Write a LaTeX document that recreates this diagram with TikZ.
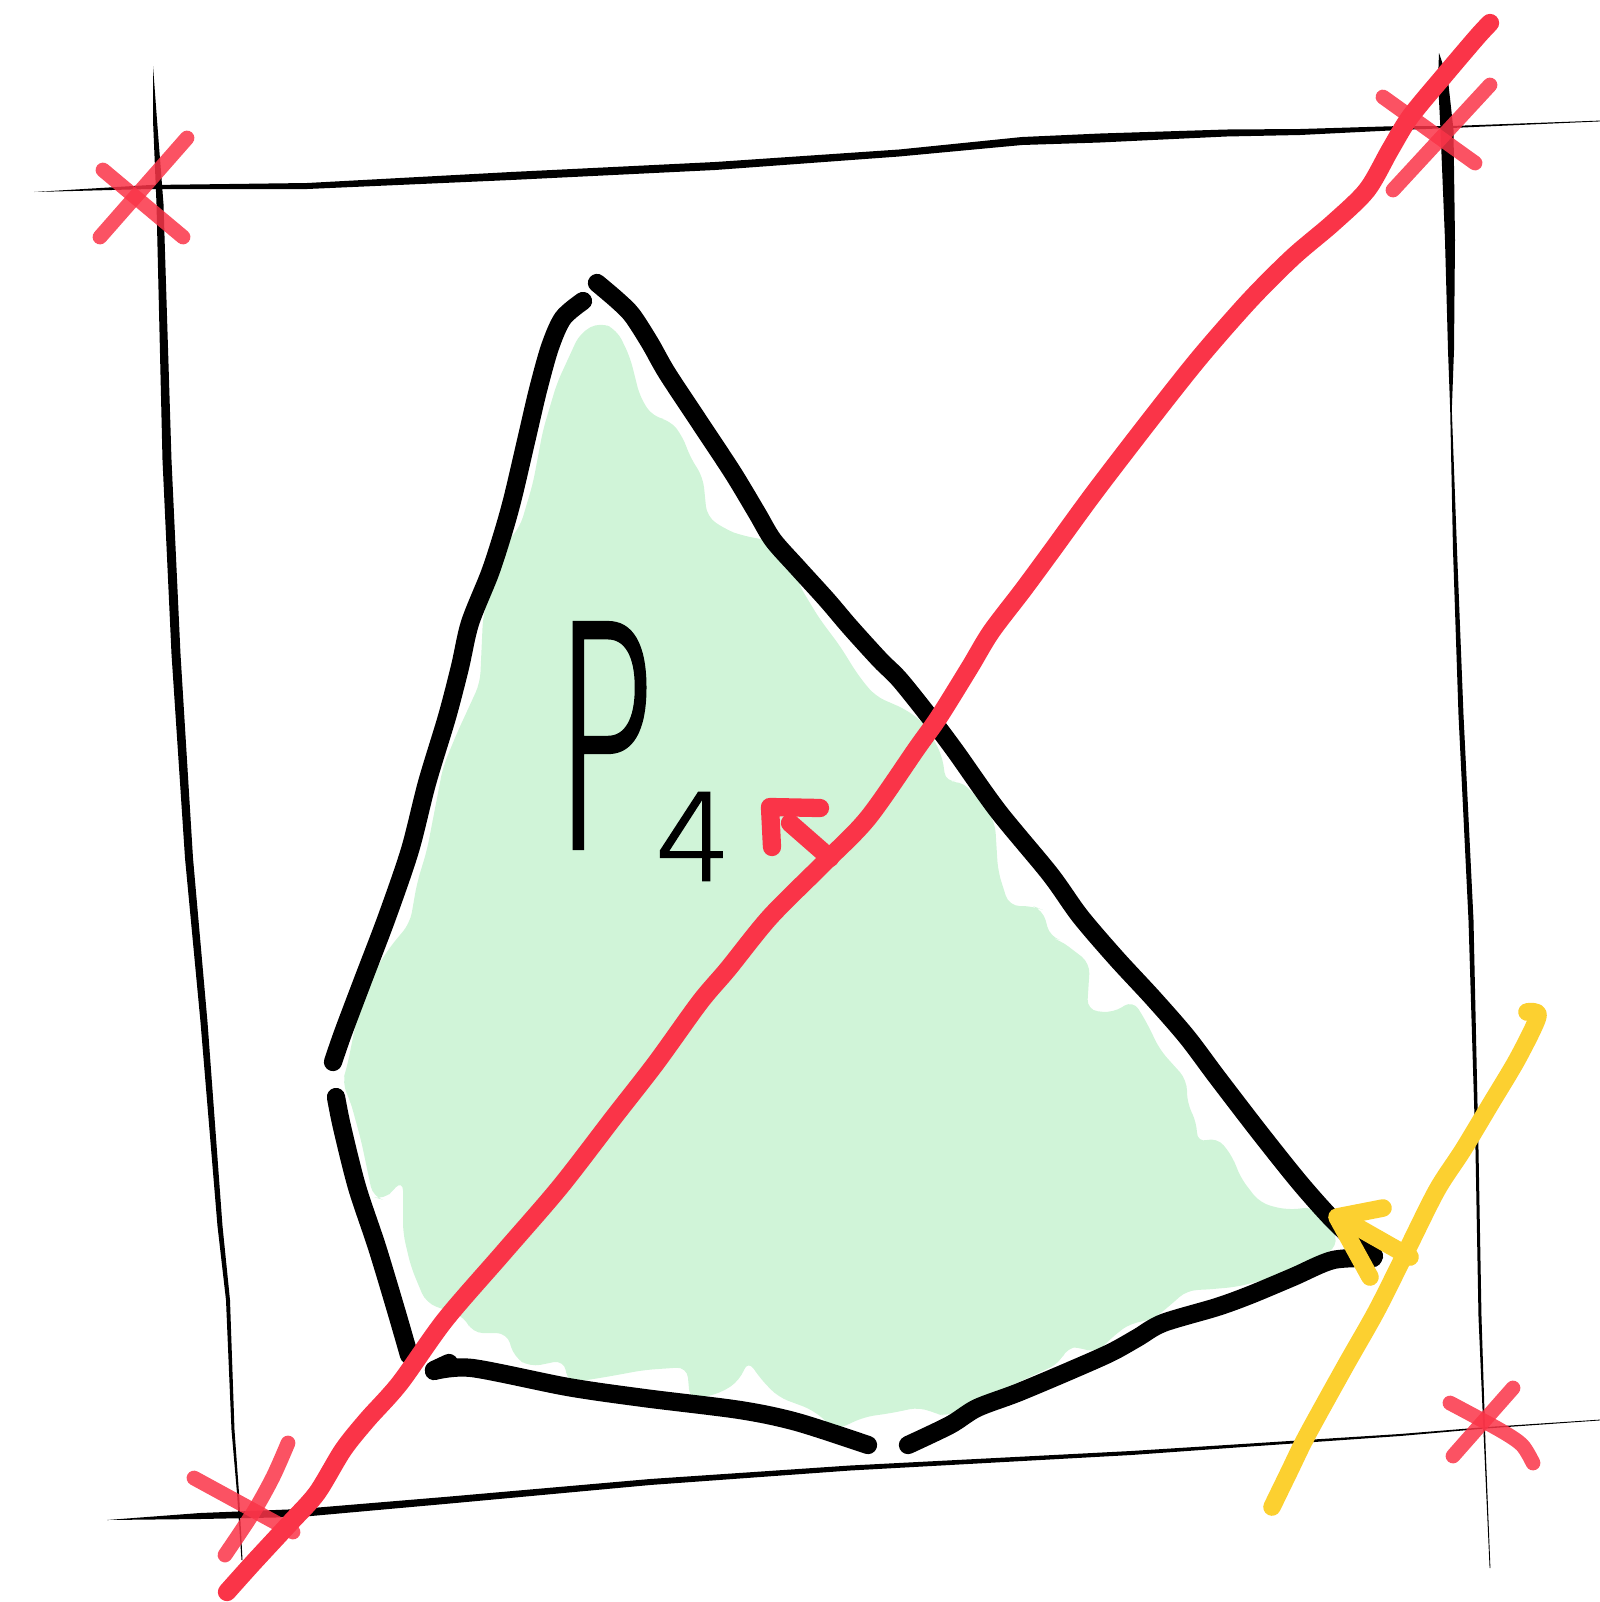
\documentclass[tikz,border=0pt]{standalone}
\usepackage{fontspec}
\usepackage{graphicx}
\usepackage{tikz}
\IfFontExistsTF{DejaVu Sans ExtraLight}
    {\newfontfamily\sketchfont[AutoFakeBold=2]{DejaVu Sans ExtraLight}}
    {\newfontfamily\sketchfont{DejaVu Sans}}
\definecolor{sketchred}{RGB}{250, 52, 72}
\definecolor{sketchyellow}{RGB}{252, 208, 48}
\definecolor{sketchgreen}{RGB}{208, 244, 216}

\begin{document}
\begin{tikzpicture}[
            x=0.01cm, y=-0.01cm,
            pen/.style={line width=5.2pt, line cap=round, line join=round},
            blackpen/.style={pen, draw=black},
            redpen/.style={pen, line width=5.2pt, draw=sketchred},
            crosspen/.style={line width=4.2pt, line cap=round, draw=sketchred, opacity=0.85},
            yellowpen/.style={pen, line width=5pt, draw=sketchyellow}
        ]
            \useasboundingbox (0,0) rectangle (1600,1602);

            % shaded region
            \fill[sketchgreen, rounded corners=3pt] (600,322) -- (617,330) -- (630,357) -- (640,397) -- (653,417) -- (670,420)
                -- (683,437) -- (690,457) -- (703,477) -- (707,517) -- (727,530) -- (740,535) -- (791,545)
                -- (798,583) -- (819,618) -- (840,646) -- (858,675) -- (875,696) -- (907,710) -- (925,724)
                -- (942,755) -- (946,783) -- (960,780) -- (981,801) -- (995,822) -- (998,871) -- (1009,906)
                -- (1033,906) -- (1043,910) -- (1050,937) -- (1060,940) -- (1090,963) -- (1087,1010)
                -- (1113,1013) -- (1133,1000) -- (1147,1023) -- (1160,1050) -- (1187,1080) -- (1187,1103)
                -- (1197,1123) -- (1197,1143) -- (1217,1137) -- (1233,1157) -- (1240,1177) -- (1260,1203)
                -- (1287,1210) -- (1313,1207) -- (1330,1217) -- (1338,1247) -- (1306,1263) -- (1264,1280)
                -- (1236,1287) -- (1201,1290) -- (1187,1290) -- (1173,1303) -- (1152,1320) -- (1131,1323)
                -- (1117,1333) -- (1096,1353) -- (1078,1347) -- (1067,1347) -- (1060,1363) -- (1008,1387)
                -- (973,1400) -- (948,1417) -- (934,1413) -- (920,1407) -- (892,1413) -- (864,1417)
                -- (836,1430) -- (813,1410) -- (778,1397) -- (759,1377) -- (748,1360) -- (740,1380)
                -- (721,1393) -- (690,1400) -- (687,1367) -- (644,1370) -- (606,1377) -- (568,1383)
                -- (564,1360) -- (530,1367) -- (514,1357) -- (507,1333) -- (472,1333) -- (465,1317)
                -- (426,1303) -- (411,1267) -- (403,1233) -- (403,1180) -- (396,1187) -- (384,1200)
                -- (373,1197) -- (361,1140) -- (350,1100) -- (342,1083) -- (347,1067) -- (357,1017)
                -- (377,967) -- (390,947) -- (410,923) -- (417,883) -- (427,850) -- (443,767) -- (457,733)
                -- (480,683) -- (483,617) -- (500,550) -- (520,527) -- (533,483) -- (543,430) -- (557,383)
                -- (580,333) -- cycle;

            % frame strokes
            \fill[black] (34,192) -- (150,185) -- (307,183) -- (511,172) -- (715,162) -- (899,149.5)
                -- (1022,137) -- (1100,133.5) -- (1226,129.5) -- (1300,129) -- (1400,126) -- (1451,126)
                -- (1600,120.6) -- (1600,121.4) -- (1451,128) -- (1400,130) -- (1300,135) -- (1226,136.5)
                -- (1100,142.5) -- (1022,145) -- (899,156.5) -- (715,170) -- (511,180) -- (307,189)
                -- (150,189) -- cycle;
            \fill[black] (153,66) -- (153,120) -- (156.5,204) -- (162.5,460) -- (171.5,654) -- (185,858)
                -- (200.5,1022) -- (217.5,1226) -- (226,1300) -- (231.5,1430) -- (237,1493) -- (241.5,1560)
                -- (242.5,1560) -- (239,1493) -- (234.5,1430) -- (230,1300) -- (222.5,1226) -- (207.5,1022)
                -- (193,858) -- (180.5,654) -- (171.5,460) -- (163.5,204) -- (157,120) -- cycle;
            \fill[black] (1439,53) -- (1438,80) -- (1440.5,130) -- (1445,240) -- (1448,350) -- (1450.2,410)
                -- (1453,550) -- (1458.5,715) -- (1468.5,920) -- (1475.5,1150) -- (1478.5,1317) -- (1484.3,1450)
                -- (1489.6,1568) -- (1490.4,1568) -- (1485.7,1450) -- (1481.5,1317) -- (1478.5,1150) -- (1473.5,920)
                -- (1463.5,715) -- (1457,550) -- (1451.8,410) -- (1454,350) -- (1455,240) -- (1453.5,130)
                -- (1448,80) -- cycle;
            \fill[black] (107,1520) -- (200,1513) -- (300,1509) -- (450,1496.5) -- (650,1479) -- (850,1465.5)
                -- (1131,1451) -- (1250,1443.5) -- (1400,1434) -- (1483,1427.3) -- (1600,1419.6)
                -- (1600,1420.4) -- (1483,1428.7) -- (1400,1436) -- (1250,1446.5) -- (1131,1455)
                -- (850,1470.5) -- (650,1485) -- (450,1503.5) -- (300,1517) -- (200,1519) -- cycle;

            % polygon outline
            \draw[blackpen] plot[smooth] coordinates {(583,301) (563,318) (550,347) (538,390) (527,437)
                (513,497) (503,533) (490,573) (470,623) (460,667) (447,717) (427,783) (410,850) (387,917)
                (363,980) (343,1033) (333,1062)};
            \draw[blackpen] plot[smooth] coordinates {(597,283) (617,300) (632,315) (650,343) (667,373)
                (700,423) (733,473) (757,513) (773,540) (797,567) (827,600) (850,627) (880,660) (900,680)
                (932,720) (956,752) (998,811) (1050,874) (1080,916) (1116,958) (1153,998) (1187,1037)
                (1217,1077) (1260,1133) (1300,1183) (1333,1220) (1362,1247) (1374,1256)};
            \draw[blackpen] plot[smooth] coordinates {(336,1097) (342,1127) (357,1187) (377,1247)
                (396,1310) (409,1355)};
            \draw[blackpen] plot[smooth] coordinates {(434,1371) (472,1368) (568,1387) (644,1398)
                (740,1410) (797,1422) (868,1445)};
            \draw[blackpen] (434,1370) -- (449,1363);
            \draw[blackpen] plot[smooth] coordinates {(908,1445) (950,1425) (977,1408) (1017,1393)
                (1067,1372) (1110,1353) (1137,1338) (1163,1323) (1217,1307) (1250,1295) (1293,1277)
                (1333,1260) (1373,1258)};

            % label
            \node[font=\sketchfont\bfseries, inner sep=0pt, anchor=base west] (plabel) at (553,847)
                {\fontsize{87}{87}\selectfont\scalebox{0.55}[1]{P}\raisebox{-9.4pt}{\fontsize{34}{34}\selectfont 4}};

            % diagonal cut
            \draw[redpen] plot[smooth] coordinates {(227,1592) (253,1563) (290,1523) (317,1493) (343,1450)
                (367,1420) (400,1383) (445,1320) (503,1253) (560,1187) (614,1117) (656,1063) (700,1002)
                (728,969) (770,917) (823,864) (868,818) (917,748) (939,717) (970,667) (991,632) (1023,590)
                (1051,552) (1094,493) (1150,420) (1200,357) (1250,300) (1293,257) (1333,223) (1367,190)
                (1390,150) (1410,117) (1443,77) (1477,37) (1490,23)};
            \draw[redpen] (830,858) -- (790,823);
            \draw[redpen] (772,847) -- (770,807) -- (820,808);

            % corner marks
            \draw[crosspen] (100,237) -- (187,138);
            \draw[crosspen] (103,170) -- (183,237);
            \draw[crosspen] (1383,97) -- (1475,163);
            \draw[crosspen] (1393,190) -- (1490,85);
            \draw[crosspen] (194,1478) -- (293,1532);
            \draw[crosspen] plot[smooth] coordinates {(288,1443) (273,1477) (253,1513) (225,1555)};
            \draw[crosspen] (1513,1388) -- (1453,1456);
            \draw[crosspen] plot[smooth] coordinates {(1450,1403) (1500,1430) (1522,1445) (1533,1463)};

            % second cut
            \draw[yellowpen] plot[smooth] coordinates {(1272,1507) (1290,1470) (1303,1443) (1317,1417)
                (1347,1363) (1377,1310) (1407,1250) (1437,1190) (1463,1150) (1490,1105) (1518,1058)
                (1538,1016) (1527,1012)};
            \draw[yellowpen] (1410,1257) -- (1345,1220);
            \draw[yellowpen] (1383,1208) -- (1337,1217) -- (1370,1277);
        \end{tikzpicture}
\end{document}
